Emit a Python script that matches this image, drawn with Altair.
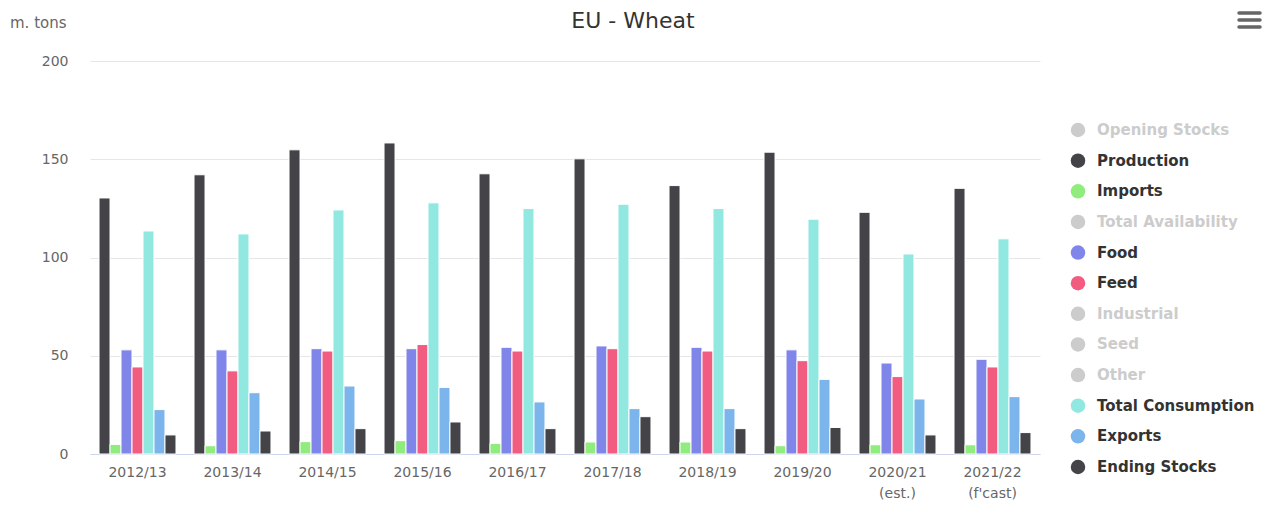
import altair as alt
import pandas as pd

years = ["2012/13", "2013/14", "2014/15", "2015/16", "2016/17", "2017/18",
         "2018/19", "2019/20", "2020/21 (est.)", "2021/22 (f'cast)"]

production = [130.3, 142.1, 154.8, 158.3, 142.6, 150.2, 136.6, 153.6, 123.0, 135.2]
imports = [4.9, 4.2, 6.3, 6.8, 5.4, 6.1, 6.1, 4.2, 4.7, 4.7]
food = [53.0, 53.0, 53.6, 53.6, 54.3, 55.0, 54.3, 53.0, 46.3, 48.2]
feed = [44.3, 42.3, 52.4, 55.7, 52.4, 53.6, 52.4, 47.5, 39.4, 44.3]
total_consumption = [113.5, 112.0, 124.2, 127.8, 124.9, 127.1, 124.9, 119.5, 101.8, 109.5]
exports = [22.6, 31.2, 34.6, 33.9, 26.5, 23.1, 23.1, 38.0, 28.0, 29.2]
ending_stocks = [9.7, 11.7, 12.9, 16.3, 12.9, 19.0, 12.9, 13.5, 9.7, 10.9]

all_series = ["Opening Stocks", "Production", "Imports", "Total Availability", "Food",
              "Feed", "Industrial", "Seed", "Other", "Total Consumption", "Exports",
              "Ending Stocks"]
series_colors = ["#7cb5ec", "#434348", "#90ed7d", "#f7a35c", "#8085e9", "#f15c80",
                 "#e4d354", "#2b908f", "#f45b5b", "#91e8e1", "#7cb5ec", "#434348"]
visible_flags = [False, True, True, False, True, True, False, False, False, True, True, True]

visible_series = {
    "Production": production,
    "Imports": imports,
    "Food": food,
    "Feed": feed,
    "Total Consumption": total_consumption,
    "Exports": exports,
    "Ending Stocks": ending_stocks,
}
visible_order = list(visible_series.keys())
color_of = dict(zip(all_series, series_colors))

rows = []
for s, vals in visible_series.items():
    for y, v in zip(years, vals):
        rows.append({"year": y, "series": s, "value": v, "color": color_of[s]})
bars_df = pd.DataFrame(rows)

legend_df = pd.DataFrame({
    "series": all_series,
    "dot": [c if v else "#cccccc" for c, v in zip(series_colors, visible_flags)],
    "lab": ["#333333" if v else "#cccccc" for v in visible_flags],
})

FONT = "DejaVu Sans"

bars = alt.Chart(bars_df).mark_bar(stroke="white", strokeWidth=1).encode(
    x=alt.X("year:N", sort=years,
            scale=alt.Scale(paddingInner=0.19, paddingOuter=0.095),
            axis=alt.Axis(title=None, labelAngle=0, ticks=False,
                          labelExpr="split(datum.label, ' ')",
                          domainColor="#ccd6eb", labelColor="#666666",
                          labelFontSize=14, labelPadding=11, labelLineHeight=21,
                          labelFont=FONT)),
    xOffset=alt.XOffset("series:N", sort=visible_order, scale=alt.Scale(paddingInner=0)),
    y=alt.Y("value:Q", scale=alt.Scale(domain=[0, 200]),
            axis=alt.Axis(title=None, values=[0, 50, 100, 150, 200], ticks=False,
                          domain=False, gridColor="#e6e6e6", labelColor="#666666",
                          labelFontSize=14, labelPadding=22, labelFont=FONT)),
    color=alt.Color("color:N", scale=None),
)

leg_y = alt.Y("series:N", sort=all_series,
              scale=alt.Scale(type="point", range=[69, 406], padding=0), axis=None)

leg_pts = alt.Chart(legend_df).mark_point(filled=True, size=210, opacity=1, shape="circle").encode(
    x=alt.value(988), y=leg_y, color=alt.Color("dot:N", scale=None))
leg_txt = alt.Chart(legend_df).mark_text(align="left", baseline="middle", fontSize=15,
                                         fontWeight="bold", font=FONT).encode(
    x=alt.value(1007), y=leg_y, text="series:N", color=alt.Color("lab:N", scale=None))

legend = alt.layer(leg_pts, leg_txt)

title_df = pd.DataFrame({"t": ["EU - Wheat"]})
title = alt.Chart(title_df).mark_text(align="center", baseline="top", fontSize=22,
                                      color="#333333", font=FONT).encode(
    x=alt.value(543), y=alt.value(-50), text="t:N")
unit_df = pd.DataFrame({"t": ["m. tons"]})
unit = alt.Chart(unit_df).mark_text(align="left", baseline="middle", fontSize=15,
                                    color="#666666", font=FONT).encode(
    x=alt.value(-80), y=alt.value(-38), text="t:N")

menu_df = pd.DataFrame({"k": [0]})
menu_lines = [
    alt.Chart(menu_df).mark_rule(color="#666666", strokeWidth=3.5, strokeCap="round").encode(
        x=alt.value(1149), x2=alt.value(1170), y=alt.value(yy))
    for yy in (-48, -41, -34)
]

chart = alt.layer(bars, legend, title, unit, *menu_lines).resolve_scale(
    y="independent", color="independent"
).properties(
    width=950, height=393,
    padding={"left": 2, "top": 2, "right": 0, "bottom": 0},
).configure_view(stroke=None)

chart.save("out.html", embed_options={"renderer": "svg", "actions": False})
